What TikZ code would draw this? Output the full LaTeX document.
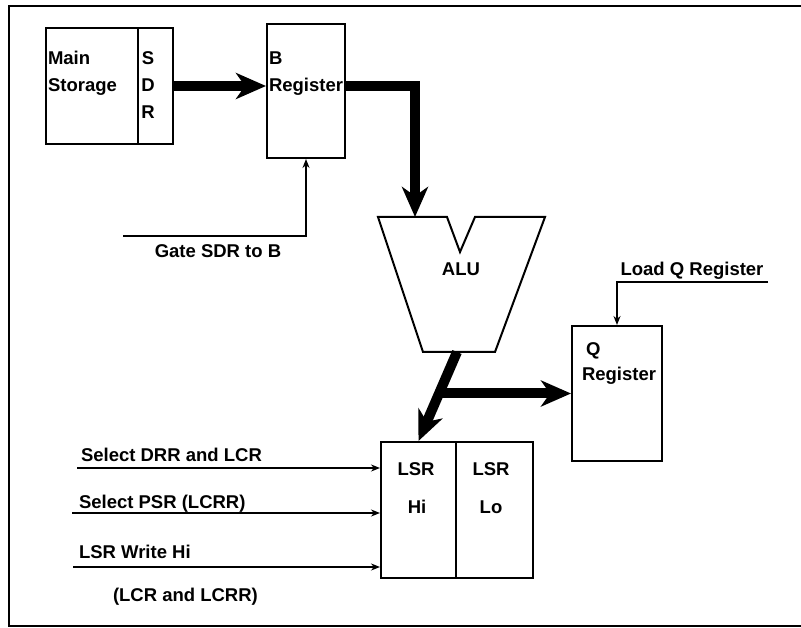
\documentclass[tikz,border=0pt]{standalone}
\usepackage{fontspec}
\setmainfont{Liberation Sans}
\usetikzlibrary{arrows.meta,calc}

\begin{document}
\begin{tikzpicture}[x=1pt,y=-1pt,line width=2pt,
  font=\fontsize{18.5}{27}\selectfont\bfseries,
  reg/.style={draw,inner sep=0,anchor=north west},
  lbl/.style={inner sep=0,anchor=base west},
  bus/.style={line width=10pt,-{Stealth[length=30pt,width=26pt,inset=9pt]}},
  sig/.style={line width=1.8pt,-{Stealth[length=9pt,width=7pt]}}]
  \useasboundingbox (0,0) rectangle (801,628);
  % frame, open on the right
  \draw (801,6) -- (9,6) -- (9,626) -- (801,626);
  % storage and registers
  \node[reg,minimum width=92,minimum height=116] (mem) at (45,27) {};
  \node[reg,minimum width=35,minimum height=116] (sdr) at (137,27) {};
  \node[reg,minimum width=78,minimum height=134] (breg) at (266,23) {};
  \node[reg,minimum width=90,minimum height=135] (q) at (571,325) {};
  \node[reg,minimum width=75,minimum height=136] (lsrhi) at (380,441) {};
  \node[reg,minimum width=77,minimum height=136] (lsrlo) at (455,441) {};
  \node[lbl] (memtxt) at (47,65) {Main};
  \node[lbl] (memtxtb) at (47,92) {Storage};
  \node[inner sep=0,anchor=base] (sdrs) at (148,65) {S};
  \node[inner sep=0,anchor=base] (sdrd) at (148,92) {D};
  \node[inner sep=0,anchor=base] (sdrr) at (148,119) {R};
  \node[lbl] (bregtxt) at (268,65) {B};
  \node[lbl] (bregtxtb) at (268,92) {Register};
  \node[lbl] (qtxt) at (585,356) {Q};
  \node[lbl] (qtxtb) at (581,381) {Register};
  \node[inner sep=0,anchor=base] (hitxt) at (416,475) {LSR};
  \node[inner sep=0,anchor=base] (hitxtb) at (417,513) {Hi};
  \node[inner sep=0,anchor=base] (lotxt) at (491,475) {LSR};
  \node[inner sep=0,anchor=base] (lotxtb) at (491,513) {Lo};
  % ALU
  \draw (378,217) -- (447,217) -- (460,252) -- (475,217) -- (545,217)
    -- (495,352) -- (423,352) -- cycle;
  \node[inner sep=0,anchor=base] (alu) at (461,276) {ALU};
  \coordinate (aluin) at (415,217);
  \coordinate (aluout) at (457,352);
  % data buses
  \draw[bus] (sdr.east) -- (breg.west |- sdr.east);
  \draw[bus] (breg.east |- sdr.east) -- (aluin |- sdr.east) -- (aluin);
  \draw[bus] (aluout) -- (lsrhi.north);
  \coordinate (split) at ($(aluout)!0.45!(lsrhi.north)$);
  \draw[bus] (split |- q.west) -- (q.west);
  % control lines
  \coordinate (gate) at (123,236);
  \draw[sig] (gate) -| (breg.south);
  \node[inner sep=0,anchor=base] (gatetxt) at (218,258) {Gate SDR to B};
  \coordinate (loadq) at (768,282);
  \draw[sig] (loadq) -| (q.north);
  \node[inner sep=0,anchor=base] (loadqtxt) at (692,276) {Load Q Register};
  \coordinate (seldrr) at (77,468);
  \coordinate (selpsr) at (72,513);
  \coordinate (wrhi) at (73,567);
  \foreach \c in {seldrr,selpsr,wrhi}{\draw[sig] (\c) -- (\c -| lsrhi.west);}
  \node[lbl] (seldrrtxt) at (80,461) {Select DRR and LCR};
  \node[lbl] (selpsrtxt) at (78,508) {Select PSR (LCRR)};
  \node[lbl] (wrhitxt) at (78,558) {LSR Write Hi};
  \node[lbl] (wrhitxtb) at (112,601) {(LCR and LCRR)};
\end{tikzpicture}
\end{document}
